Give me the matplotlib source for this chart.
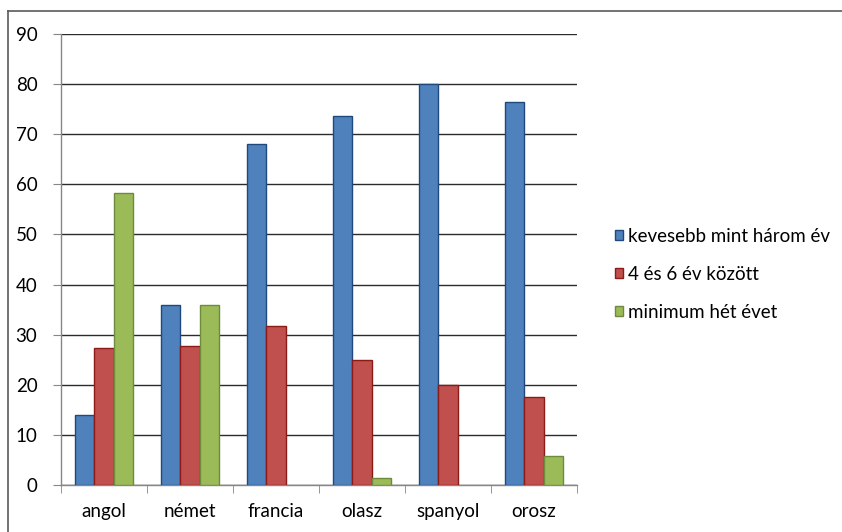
import matplotlib
matplotlib.use("Agg")
import matplotlib.pyplot as plt
from matplotlib.lines import Line2D
from matplotlib.patches import Patch
import numpy as np

plt.rcParams['font.family'] = ['Lato', 'DejaVu Sans']

categories = ["angol", "német", "francia", "olasz", "spanyol", "orosz"]
series_names = ["kevesebb mint három év", "4 és 6 év között", "minimum hét évet"]
kevesebb = [14.0, 36.0, 68.0, 73.6, 80.0, 76.4]
kozott = [27.3, 27.8, 31.7, 25.0, 19.9, 17.5]
minimum = [58.2, 36.0, 0.0, 1.3, 0.0, 5.8]
y_ticks = [0, 10, 20, 30, 40, 50, 60, 70, 80, 90]

fills = ["#4F81BD", "#C0504D", "#9BBB59"]
edges = ["#1F497D", "#8C1A17", "#6E8B3D"]
FS = 13.5

W, H = 842, 532
fig = plt.figure(figsize=(W / 100, H / 100), dpi=100)
ax = fig.add_axes([61 / W, 1 - 485 / H, (577 - 61) / W, (485 - 34) / H])

x = np.arange(len(categories))
bw = 0.222
for i, vals in enumerate([kevesebb, kozott, minimum]):
    lw = [1.0 if v > 0 else 0.0 for v in vals]
    ax.bar(x + (i - 1) * bw, vals, width=bw, color=fills[i],
           edgecolor=edges[i], linewidth=lw, zorder=3)

ax.set_xlim(-0.5, len(categories) - 0.5)
ax.set_ylim(0, 90)
ax.set_yticks(y_ticks)
ax.set_yticklabels([str(v) for v in y_ticks])
ax.yaxis.grid(True, color="#2b2b2b", linewidth=1.0, zorder=0)
ax.set_axisbelow(True)

ax.set_xticks(x)
ax.set_xticklabels(categories)
ax.set_xticks(np.arange(-0.5, len(categories)), minor=True)
ax.tick_params(axis="x", which="major", length=0, pad=13, labelsize=FS, colors="black")
ax.tick_params(axis="x", which="minor", length=6, color="#868686", direction="out")
ax.tick_params(axis="y", length=6, color="#868686", direction="out", pad=11, labelsize=FS)

for s in ["top", "right"]:
    ax.spines[s].set_visible(False)
for s in ["left", "bottom"]:
    ax.spines[s].set_color("#868686")
    ax.spines[s].set_linewidth(1.0)

handles = [Patch(facecolor=fills[i], edgecolor=edges[i], linewidth=1.0) for i in range(3)]
fig.legend(handles, series_names, loc="center left",
           bbox_to_anchor=(600 / W, 1 - 274 / H), frameon=False,
           fontsize=FS, handlelength=0.42, handleheight=0.42,
           handletextpad=0.3, labelspacing=1.12, borderpad=0.3)

# chart area border
fig.add_artist(Line2D([8 / W, 8 / W], [0, 1 - 11 / H], transform=fig.transFigure,
                      color="#5a5a5a", linewidth=1.2))
fig.add_artist(Line2D([8 / W, 1], [1 - 11 / H, 1 - 11 / H], transform=fig.transFigure,
                      color="#5a5a5a", linewidth=1.2))

fig.savefig("out.png", dpi=100)
